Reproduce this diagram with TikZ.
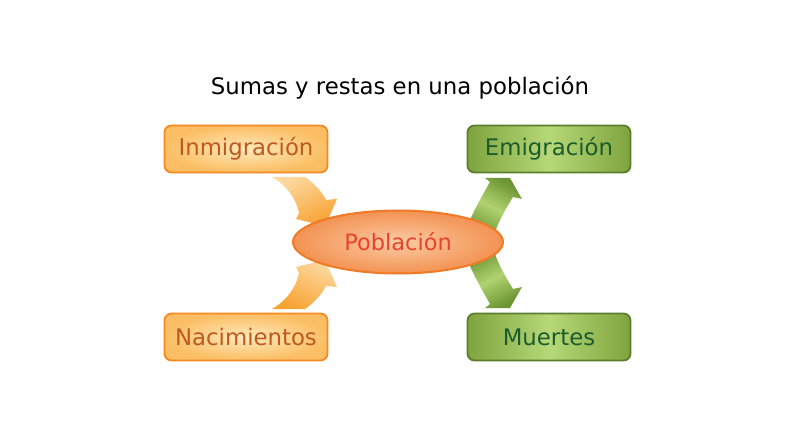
\documentclass[tikz,border=0pt]{standalone}
\usepackage{fontspec}
\setmainfont{DejaVu Sans}
\usetikzlibrary{shapes.geometric}
\definecolor{obord}{HTML}{F58A20}
\definecolor{oin}{HTML}{FEE9BC}
\definecolor{oout}{HTML}{FBBE64}
\definecolor{otext}{HTML}{BE5A1E}
\definecolor{gbord}{HTML}{5C7E2C}
\definecolor{gside}{HTML}{7FA43E}
\definecolor{gmid}{HTML}{B6D878}
\definecolor{gtext}{HTML}{1C5C2C}
\definecolor{ebord}{HTML}{F07A26}
\definecolor{ein}{HTML}{FBCBA4}
\definecolor{eout}{HTML}{F39252}
\definecolor{etext}{HTML}{E8432E}
\definecolor{arlight}{HTML}{FDD9A0}
\definecolor{ardark}{HTML}{F8A232}
\definecolor{gadark}{HTML}{6C9432}
\definecolor{galight}{HTML}{B0D270}
\tikzset{
  obox/.style={draw=obord, line width=1.8pt, rounded corners=7pt, inner color=oin, outer color=oout,
    minimum width=163pt, minimum height=47pt, text=otext, font=\fontsize{22.8}{27}\selectfont},
  gbox/.style={draw=gbord, line width=1.8pt, rounded corners=7pt, left color=gside, right color=gside, middle color=gmid,
    minimum width=163pt, minimum height=47pt, text=gtext, font=\fontsize{22.8}{27}\selectfont},
  pobl/.style={ellipse, draw=ebord, line width=2pt, inner color=ein, outer color=eout,
    minimum width=210pt, minimum height=63pt, text=etext, font=\fontsize{22.5}{27}\selectfont},
  oarrow/.style={top color=arlight, bottom color=ardark},
  garrow/.style={left color=gadark, right color=gadark, middle color=galight}
}
\begin{document}
\begin{tikzpicture}[x=1pt,y=-1pt]
\useasboundingbox[fill=white] (0,0) rectangle (800,430);
% orange arrows (into the population)
\shade[oarrow, shading angle=25] (272,177) -- (305,177) .. controls (315,184) and (322,192) .. (326,200)
  -- (337,199) -- (325,226) -- (296,219) -- (299,213) .. controls (296,198) and (286,185) .. (272,177) -- cycle;
\begin{scope}[shift={(0,486)},yscale=-1]
\shade[oarrow, shading angle=-25] (272,177) -- (305,177) .. controls (315,184) and (322,192) .. (326,200)
  -- (337,199) -- (325,226) -- (296,219) -- (299,213) .. controls (296,198) and (286,185) .. (272,177) -- cycle;
\end{scope}
% green arrows (out of the population)
\shade[garrow, shading angle=-28] (466,229) .. controls (474,210) and (482,196) .. (490,182) -- (485,178) -- (510,178)
  -- (522,199) -- (513,197) .. controls (505,210) and (498,222) .. (493,238) -- cycle;
\begin{scope}[shift={(0,486)},yscale=-1]
\shade[garrow, shading angle=28] (466,229) .. controls (474,210) and (482,196) .. (490,182) -- (485,178) -- (510,178)
  -- (522,199) -- (513,197) .. controls (505,210) and (498,222) .. (493,238) -- cycle;
\end{scope}
% nodes
\node (title) at (400,88) {\fontsize{22.8}{27}\selectfont Sumas y restas en una población};
\node[pobl] (pob) at (398,242) {Población};
\node[obox] (inm) at (246,149) {Inmigración};
\node[obox] (nac) at (246,337) {Nacimientos};
\node[gbox] (emi) at (549,149) {Emigración};
\node[gbox] (mue) at (549,337) {Muertes};
\end{tikzpicture}
\end{document}
